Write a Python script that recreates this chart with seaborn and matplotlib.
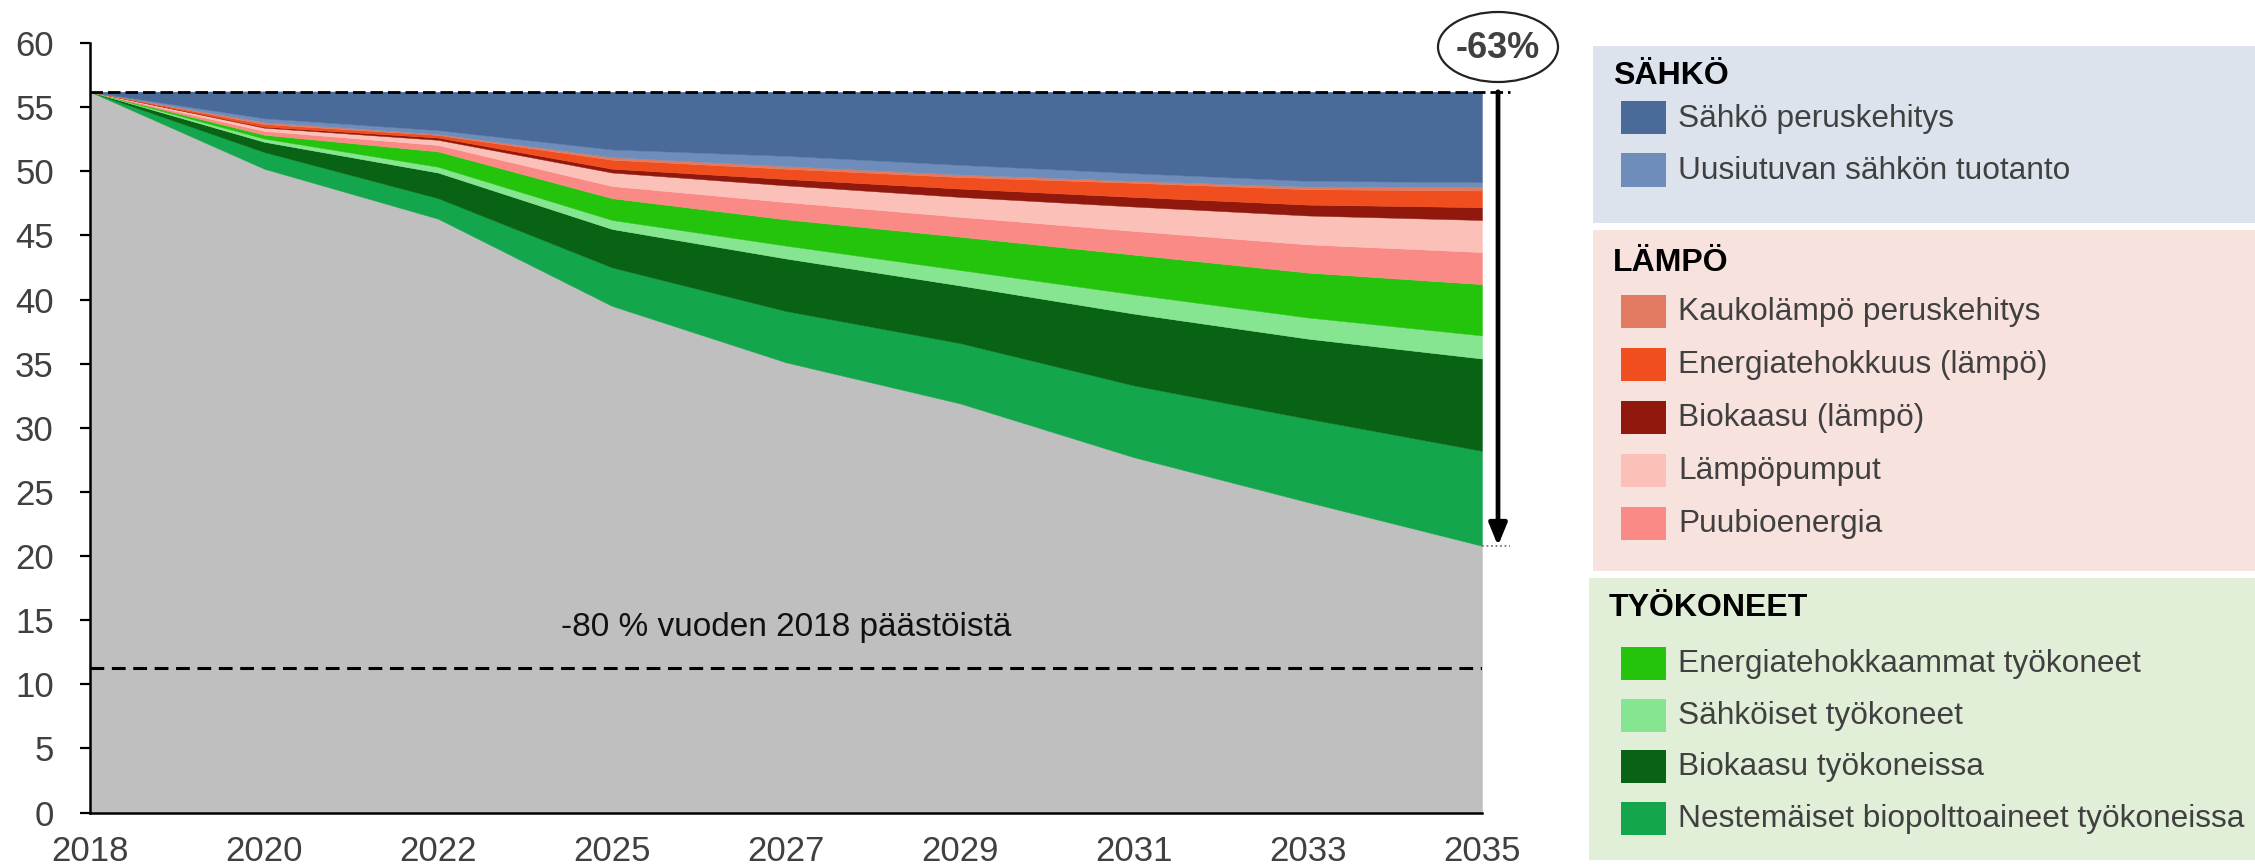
import numpy as np
import matplotlib
matplotlib.use("Agg")
import matplotlib.pyplot as plt
from matplotlib.patches import Rectangle, Ellipse
import seaborn as sns

# --- data: emission reductions by measure (Mt CO2-ekv) ---
years = ["2018", "2020", "2022", "2025", "2027", "2029", "2031", "2033", "2035"]

jaljella = [56.2, 50.2, 46.3, 39.5, 35.1, 31.9, 27.7, 24.2, 20.8]
nestemaiset_bio = [0, 1.3, 1.6, 3.0, 4.0, 4.7, 5.6, 6.5, 7.4]
biokaasu_tyokoneet = [0, 0.8, 2.0, 3.0, 4.1, 4.5, 5.6, 6.25, 7.2]
sahkoiset_tyokoneet = [0, 0.25, 0.45, 0.7, 1.0, 1.2, 1.5, 1.65, 1.8]
energiatehokkaammat = [0, 0.3, 1.2, 1.7, 2.05, 2.6, 3.1, 3.5, 4.0]
puubioenergia = [0, 0.3, 0.5, 0.95, 1.35, 1.55, 1.85, 2.2, 2.5]
lampopumput = [0, 0.25, 0.4, 1.05, 1.3, 1.55, 1.9, 2.25, 2.5]
biokaasu_lampo = [0, 0.08, 0.18, 0.3, 0.5, 0.65, 0.75, 0.85, 1.0]
energiatehokkuus_lampo = [0, 0.2, 0.2, 0.7, 0.8, 0.9, 1.1, 1.2, 1.3]
kaukolampo_perus = [0, 0.15, 0.07, 0.2, 0.2, 0.2, 0.15, 0.2, 0.3]
uusiutuva_sahko = [0, 0.3, 0.3, 0.6, 0.8, 0.75, 0.6, 0.45, 0.35]
sahko_perus = [0, 2.1, 3.0, 4.5, 5.0, 5.7, 6.35, 6.95, 7.05]

lahto_taso = 56.2          # 2018 emissions
tavoite_osuus = 0.2        # -80 % target level

groups = {
    "SÄHKÖ": [
        ("Sähkö peruskehitys", sahko_perus, "#4A6B9A"),
        ("Uusiutuvan sähkön tuotanto", uusiutuva_sahko, "#6E8DBA"),
    ],
    "LÄMPÖ": [
        ("Kaukolämpö peruskehitys", kaukolampo_perus, "#E07A60"),
        ("Energiatehokkuus (lämpö)", energiatehokkuus_lampo, "#F04E1E"),
        ("Biokaasu (lämpö)", biokaasu_lampo, "#90180C"),
        ("Lämpöpumput", lampopumput, "#FBC0B8"),
        ("Puubioenergia", puubioenergia, "#FA8A85"),
    ],
    "TYÖKONEET": [
        ("Energiatehokkaammat työkoneet", energiatehokkaammat, "#24C40C"),
        ("Sähköiset työkoneet", sahkoiset_tyokoneet, "#86E590"),
        ("Biokaasu työkoneissa", biokaasu_tyokoneet, "#086414"),
        ("Nestemäiset biopolttoaineet työkoneissa", nestemaiset_bio, "#14A64C"),
    ],
}
group_bg = {"SÄHKÖ": "#DCE3EC", "LÄMPÖ": "#F8E2DE", "TYÖKONEET": "#E2EFD8"}

# --- style ---
sns.set_theme(style="white")
plt.rcParams["font.family"] = ["Liberation Sans", "DejaVu Sans"]

W, H = 2255, 865
fig = plt.figure(figsize=(W / 100, H / 100), dpi=100)


def fx(x):
    return x / W


def fy(y):
    return 1 - y / H


ax = fig.add_axes([fx(90), fy(812.6), fx(1482 - 90), (812.6 - 43) / H])

# stacking order from the bottom: remaining emissions, then measures
ordered = [("Jäljelle jäävät päästöt", jaljella, "#BFBFBF")]
for g in ["TYÖKONEET", "LÄMPÖ", "SÄHKÖ"]:
    ordered += list(reversed(groups[g]))

xi = np.arange(len(years))
ax.stackplot(xi, *[np.array(v) for _, v, _ in ordered],
             colors=[c for _, _, c in ordered],
             edgecolor="face", linewidth=0.3)

ax.set_xlim(0, len(years) - 1)
ax.set_ylim(0, 60)
ax.set_yticks(np.arange(0, 61, 5))
ax.set_xticks(xi)
ax.set_xticklabels(years)

sns.despine(ax=ax)
for s in ["left", "bottom"]:
    ax.spines[s].set_color("black")
    ax.spines[s].set_linewidth(1.8)
ax.tick_params(axis="y", length=7, width=1.6, color="black", pad=19,
               labelsize=25, labelcolor="#404040", left=True)
ax.tick_params(axis="x", length=0, pad=16, labelsize=25, labelcolor="#404040")

# reference lines
x_end = len(years) - 1
ax.plot([0, x_end + 0.16], [lahto_taso, lahto_taso], color="black", lw=2.0,
        linestyle=(0, (4.5, 1.8)), clip_on=False, zorder=5)
tavoite = lahto_taso * tavoite_osuus
ax.plot([0, x_end], [tavoite, tavoite], color="black", lw=2.2,
        linestyle=(0, (4.5, 2.5)), zorder=5)
ax.text(4.0, 14.4, "-80 % vuoden 2018 päästöistä", ha="center", va="center",
        fontsize=24, color="#111111")

# reduction arrow to 2035
loppu = jaljella[-1]
ax.plot([x_end, x_end + 0.16], [loppu, loppu], color="#777777", lw=1.3,
        linestyle=(0, (1, 1.5)), clip_on=False, zorder=5)
ax.annotate("", xy=(x_end + 0.092, loppu), xytext=(x_end + 0.092, lahto_taso),
            arrowprops=dict(arrowstyle="-|>,head_length=1.1,head_width=0.45",
                            color="black", lw=3.4, shrinkA=0, shrinkB=0),
            annotation_clip=False, zorder=6)
muutos = round((loppu / lahto_taso - 1) * 100)
fig.patches.append(Ellipse((fx(1498), fy(47)), fx(120), 70 / H,
                           transform=fig.transFigure, fill=False,
                           edgecolor="#222222", lw=1.6))
fig.text(fx(1498), fy(49), f"{muutos}%", ha="center", va="center",
         fontsize=26, fontweight="bold", color="#404040")

# grouped legend panels
panels = [
    ("SÄHKÖ", 1593, 46, 223, 76, [117.5, 170]),
    ("LÄMPÖ", 1593, 230, 571, 263, [311, 364, 417, 470, 523]),
    ("TYÖKONEET", 1589, 578, 860, 608, [663, 715, 766, 818]),
]
for name, x0, y0, y1, ty, rows in panels:
    fig.patches.append(Rectangle((fx(x0), fy(y1)), fx(W - x0), (y1 - y0) / H,
                                 transform=fig.transFigure,
                                 facecolor=group_bg[name], edgecolor="none",
                                 zorder=0))
    fig.text(fx(x0 + 20), fy(ty), name, ha="left", va="center",
             fontsize=23, fontweight="bold", color="black")
    for (label, _, color), ry in zip(groups[name], rows):
        fig.patches.append(Rectangle((fx(1621), fy(ry + 16.5)), fx(45), 33 / H,
                                     transform=fig.transFigure,
                                     facecolor=color, edgecolor="none"))
        fig.text(fx(1678), fy(ry + 1), label, ha="left", va="center",
                 fontsize=22.8, color="#404040")

fig.savefig("out.png", dpi=100)
